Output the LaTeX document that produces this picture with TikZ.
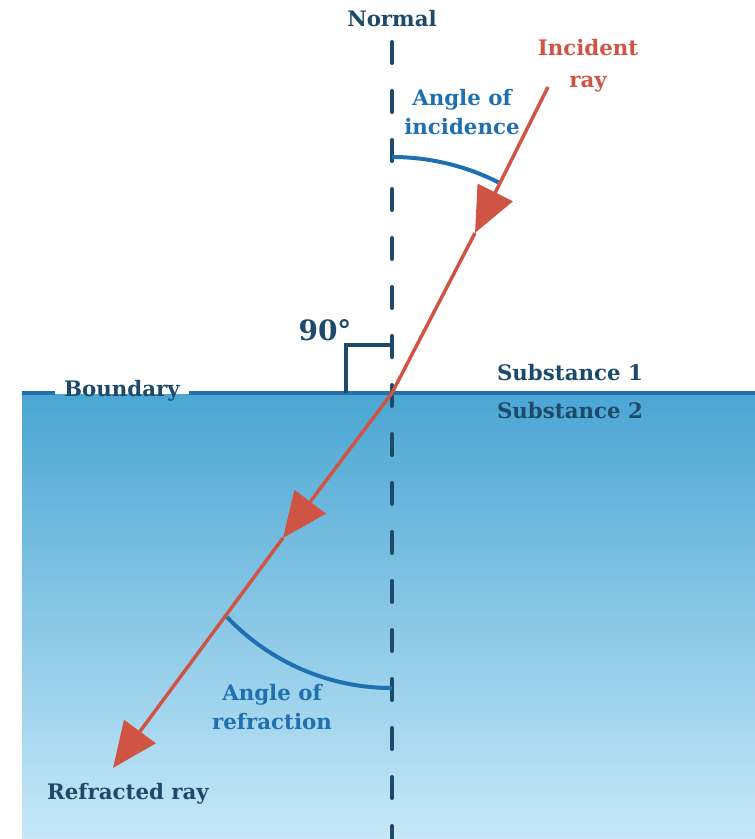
\documentclass[tikz,border=0pt]{standalone}
\usepackage{fontspec}
\setmainfont{DejaVu Serif}
\usepackage{tikz}
\usetikzlibrary{arrows.meta,positioning}
\definecolor{navy}{HTML}{1D4A6B}
\definecolor{rayred}{HTML}{CF5443}
\definecolor{angleblue}{HTML}{1F70B0}
\definecolor{bndblue}{HTML}{2470AF}
\definecolor{watertop}{HTML}{4BA6D3}
\definecolor{waterbot}{HTML}{C6E8F8}

\begin{document}
\begin{tikzpicture}[x=0.75pt,y=0.75pt,
  label text/.style={font=\bfseries\fontsize{16}{22}\selectfont,align=center,inner sep=0pt},
  ray/.style={draw=rayred,line width=2.6pt},
  ray tip/.style={-{Triangle[length=34pt,width=29pt]}},
  arc line/.style={draw=angleblue,line width=3pt},
  normal line/.style={draw=navy,line width=3pt,line cap=round,dash pattern=on 15.75pt off 21pt}]

              \useasboundingbox (0,0) rectangle (755,839);

              % Substance 2 (water)
              \fill[top color=watertop,bottom color=waterbot] (22,0) rectangle (755,444);

              % Define points by coordinates
              \coordinate (O) at (392,446);
              \coordinate (nTop) at (392,797);
              \coordinate (nBot) at (392,0);
              \coordinate (bL) at (22,446);
              \coordinate (bR) at (755,446);
              \coordinate (incA) at (548,752);
              \coordinate (incM) at (475,606);
              \coordinate (refrM) at (283,301);
              \coordinate (refrT) at (113,71);
              \coordinate (sqA) at (392,494);
              \coordinate (sqB) at (346,494);
              \coordinate (sqC) at (346,446);
              \coordinate (incArc) at (392,682);
              \coordinate (refrArc) at (227,222);

              % Labels
              \node[label text,text=navy] (normal) at (392,820) {Normal};
              \node[label text,text=rayred,font=\bfseries\fontsize{16}{24}\selectfont] (incident) at (588,773) {Incident\\ray};
              \node[label text,text=angleblue] (incAngle) at (462,727) {Angle of\\incidence};
              \node[label text,text=navy] (sub1) at (570,466) {Substance 1};
              \node[label text,text=navy] (sub2) at (570,428) {Substance 2};
              \node[label text,text=navy,anchor=base,inner xsep=7pt] (bnd) at (122,442) {Boundary};
              \node[label text,text=angleblue] (refrAngle) at (272,132) {Angle of\\refraction};
              \node[label text,text=navy,anchor=base] (refracted) at (128,39) {Refracted ray};
              \node[label text,text=navy,font=\bfseries\fontsize{21}{24}\selectfont] (deg) at (325,509) {90°};

              % Normal and boundary
              \draw[normal line] (nTop) -- (nBot);
              \draw[bndblue,line width=3pt] (bL) -- (bL -| bnd.west);
              \draw[bndblue,line width=3pt] (bnd.east |- bR) -- (bR);
              \draw[navy,line width=2.6pt] (sqA) -- (sqB) -- (sqC);

              % Angles
              \draw[arc line] (incArc) arc[start angle=90,end angle=63,radius=236];
              \draw[arc line] (refrArc) arc[start angle=223.4,end angle=270,radius=227];

              % Rays
              \path[rayred]
                (incA) edge[ray,ray tip] (incM)
                (incM) edge[ray] (O)
                (O) edge[ray,ray tip] (refrM)
                (refrM) edge[ray,ray tip] (refrT);
            \end{tikzpicture}
\end{document}
